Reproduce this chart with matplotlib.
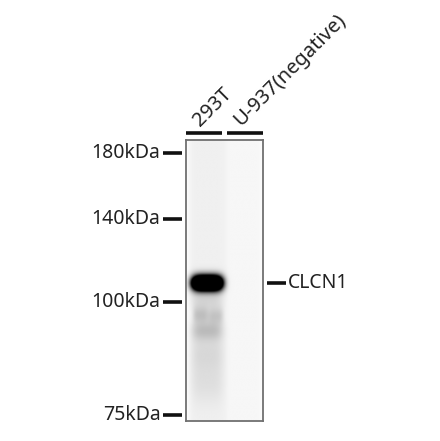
import numpy as np
import matplotlib
matplotlib.use("Agg")
import matplotlib.pyplot as plt

# Carriles y marcadores
carriles = ["293T", "U-937(negative)"]
centro_carril = [0.55, 1.5]
marcadores = ["180kDa", "140kDa", "100kDa", "75kDa"]
pos_marcadores = [0.045, 0.281, 0.577, 0.979]   # migración relativa (0 = arriba)

# Bandas: carril, posición, intensidad, semiancho x, semialto y, desplazamiento x
banda_carril = [0, 0, 0, 0, 0, 0, 0]
banda_pos = [0.509, 0.57, 0.622, 0.625, 0.678, 0.76, 0.87]
banda_int = [3.0, 0.10, 0.17, 0.15, 0.18, 0.09, 0.06]
banda_ancho = [0.40, 0.40, 0.20, 0.20, 0.40, 0.42, 0.42]
banda_alto = [0.026, 0.035, 0.03, 0.03, 0.035, 0.07, 0.07]
banda_dx = [0.0, 0.0, -0.17, 0.22, 0.0, 0.0, 0.0]

fondo_carril = [0.06, 0.035]
objetivo = "CLCN1"
pos_objetivo = 0.509

plt.rcParams['font.family'] = ['Noto Sans', 'DejaVu Sans']

fig = plt.figure(figsize=(4.4, 4.41), dpi=100)
ax = fig.add_axes([186 / 440, 20 / 441, 77 / 440, 281 / 441])

# Construir la imagen del blot
xs = np.linspace(0, 2, 220)
ys = np.linspace(0, 1, 500)
X, Y = np.meshgrid(xs, ys)
oscuro = np.zeros_like(X)
for i, c in enumerate(centro_carril):
    mascara = np.exp(-((X - c) / 0.5) ** 8)
    oscuro += fondo_carril[i] * mascara
for c, p, a, w, h, dx in zip(banda_carril, banda_pos, banda_int, banda_ancho, banda_alto, banda_dx):
    xc = centro_carril[c] + dx
    oscuro += a * np.exp(-np.abs((X - xc) / w) ** 4) * np.exp(-((Y - p) / h) ** 2)
valor = np.clip(1 - oscuro, 0, 1)
ax.imshow(valor, cmap="gray", vmin=0, vmax=1, extent=[0, 2, 1, 0],
          aspect="auto", interpolation="bilinear")
ax.set_xlim(0, 2)
ax.set_ylim(1, 0)
ax.set_xticks([])
ax.set_yticks([])
for s in ax.spines.values():
    s.set_color("#707070")
    s.set_linewidth(1.3)

# Marcadores de peso molecular
ty = ax.get_yaxis_transform()
for etiqueta, p in zip(marcadores, pos_marcadores):
    ax.plot([-0.30, -0.055], [p, p], transform=ty, color="#111111", lw=2.6,
            clip_on=False, solid_capstyle="butt")
    ax.text(-0.33, p, etiqueta, transform=ty, ha="right", va="center",
            fontsize=14, color="#222222")

# Banda objetivo a la derecha
ax.plot([1.05, 1.30], [pos_objetivo, pos_objetivo], transform=ty, color="#111111",
        lw=2.6, clip_on=False, solid_capstyle="butt")
ax.text(1.32, pos_objetivo, objetivo, transform=ty, ha="left", va="center",
        fontsize=14, color="#222222")

# Líneas y nombres de carriles
tx = ax.get_xaxis_transform()
limites = [(0.0, 0.94), (1.06, 2.0)]
for nombre, (a, b) in zip(carriles, limites):
    ax.plot([a, b], [1.025, 1.025], transform=tx, color="#111111", lw=2.6,
            clip_on=False, solid_capstyle="butt")
    ax.text(a + 0.45, 1.035, nombre, transform=tx, rotation=45,
            rotation_mode="anchor", ha="left", va="bottom",
            fontsize=14.5, color="#222222")

fig.savefig("out.png", dpi=100)
